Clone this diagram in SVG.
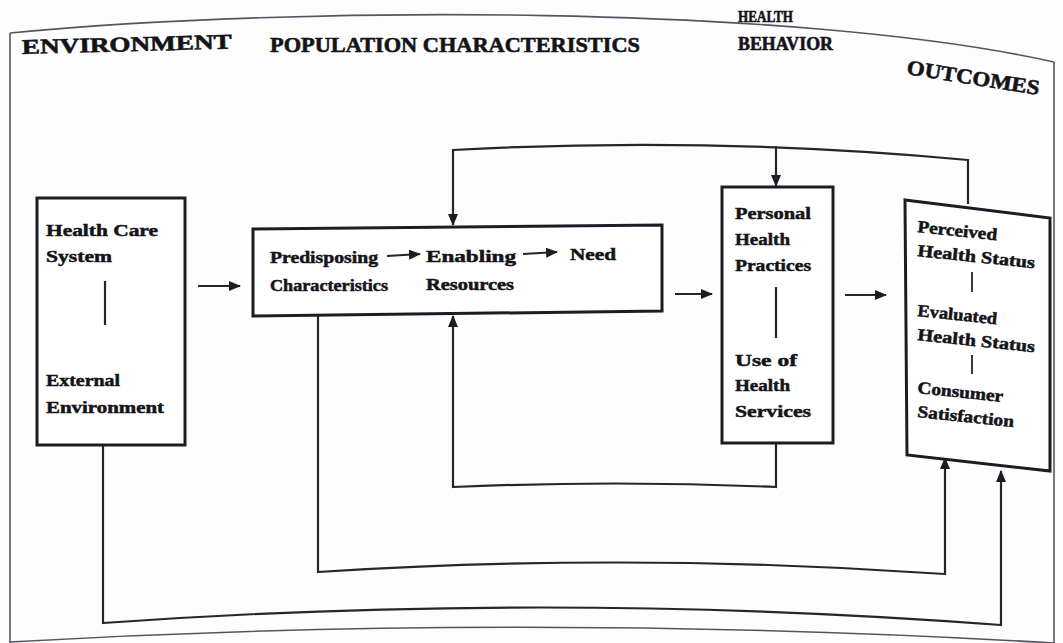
<svg xmlns="http://www.w3.org/2000/svg" width="1063" height="643" viewBox="0 0 1063 643">
<defs>
<style>
.frame{fill:none;stroke:#55555f;stroke-width:1.6}
.box{fill:#fff;stroke:#1c1c22;stroke-width:3}
.ln{fill:none;stroke:#25252b;stroke-width:2.2}
.hd{font-family:"Liberation Serif","Times New Roman",serif;font-weight:bold;font-size:21px;fill:#141418;stroke:#141418;stroke-width:0.6}
.tx{font-family:"Liberation Serif","Times New Roman",serif;font-weight:bold;font-size:17px;fill:#141418;stroke:#141418;stroke-width:0.5}
</style>
<marker id="ah" viewBox="0 0 12 10" refX="11" refY="5" markerWidth="12" markerHeight="10" markerUnits="userSpaceOnUse" orient="auto">
<path d="M0,0 L12,5 L0,10 Z" fill="#1c1c22"/>
</marker>
<marker id="ahs" viewBox="0 0 12 10" refX="11" refY="5" markerWidth="12" markerHeight="10" markerUnits="userSpaceOnUse" orient="auto">
<path d="M0,0 L12,5 L0,10 Z" fill="#1c1c22"/>
</marker>
</defs>
<rect width="1063" height="643" fill="#fdfdfd"/>

<g id="frame">
<path class="frame" d="M10 33 C300 5 800 5 1054 62"/>
<path class="frame" d="M10 33 L10 643"/>
<path class="frame" d="M1054 62 L1054 643"/>
<path class="frame" d="M10 642 Q530 612 1054 643"/>
</g>

<g id="headers">
<text class="hd" x="22" y="54" textLength="210" lengthAdjust="spacingAndGlyphs" transform="rotate(-1.5 22 54)">ENVIRONMENT</text>
<text class="hd" x="270" y="52" textLength="370" lengthAdjust="spacingAndGlyphs">POPULATION CHARACTERISTICS</text>
<text class="hd" x="738" y="22" textLength="55" lengthAdjust="spacingAndGlyphs" style="font-size:17px">HEALTH</text>
<text class="hd" x="738" y="50" textLength="95" lengthAdjust="spacingAndGlyphs" style="font-size:18px">BEHAVIOR</text>
<text class="hd" x="906" y="74" textLength="134" lengthAdjust="spacingAndGlyphs" transform="rotate(9 906 74)">OUTCOMES</text>
</g>

<g id="connectors">
<path class="ln" d="M198 286 L240 286" marker-end="url(#ah)"/>
<path class="ln" d="M675 294 L712 294" marker-end="url(#ah)"/>
<path class="ln" d="M845 295 L886 295" marker-end="url(#ah)"/>
<path class="ln" d="M968 204 L968 160 Q710 136 453 150 L453 225" marker-end="url(#ah)"/>
<path class="ln" d="M776 146 L776 186" marker-end="url(#ah)"/>
<path class="ln" d="M776 443 L776 487 Q615 480 453 487 L453 316" marker-end="url(#ah)"/>
<path class="ln" d="M318 315 L318 572 Q630 552 945 574 L945 458" marker-end="url(#ah)"/>
<path class="ln" d="M103 445 L103 623 Q552 591 1001 625 L1001 471" marker-end="url(#ah)"/>
</g>

<g id="environment">
<rect class="box" x="37" y="198" width="148" height="247"/>
<text class="tx" x="46" y="236" textLength="112" lengthAdjust="spacingAndGlyphs">Health Care</text>
<text class="tx" x="46" y="262" textLength="66" lengthAdjust="spacingAndGlyphs">System</text>
<path class="ln" d="M105 281 L105 325"/>
<text class="tx" x="46" y="386" textLength="74" lengthAdjust="spacingAndGlyphs">External</text>
<text class="tx" x="46" y="413" textLength="118" lengthAdjust="spacingAndGlyphs">Environment</text>
</g>

<g id="population">
<path class="box" d="M253 229 L662 225 L662 311 L253 316 Z"/>
<text class="tx" x="270" y="263" textLength="108" lengthAdjust="spacingAndGlyphs">Predisposing</text>
<text class="tx" x="270" y="291" textLength="118" lengthAdjust="spacingAndGlyphs">Characteristics</text>
<path class="ln" d="M387 256 L420 254" marker-end="url(#ahs)"/>
<text class="tx" x="426" y="262" textLength="90" lengthAdjust="spacingAndGlyphs">Enabling</text>
<text class="tx" x="426" y="290" textLength="88" lengthAdjust="spacingAndGlyphs">Resources</text>
<path class="ln" d="M523 254 L557 252" marker-end="url(#ahs)"/>
<text class="tx" x="570" y="260" textLength="46" lengthAdjust="spacingAndGlyphs">Need</text>
</g>

<g id="behavior">
<rect class="box" x="722" y="187" width="111" height="256"/>
<text class="tx" x="735" y="219" textLength="76" lengthAdjust="spacingAndGlyphs">Personal</text>
<text class="tx" x="735" y="245" textLength="55" lengthAdjust="spacingAndGlyphs">Health</text>
<text class="tx" x="735" y="271" textLength="76" lengthAdjust="spacingAndGlyphs">Practices</text>
<path class="ln" d="M776 287 L776 338"/>
<text class="tx" x="735" y="366" textLength="62" lengthAdjust="spacingAndGlyphs">Use of</text>
<text class="tx" x="735" y="391" textLength="55" lengthAdjust="spacingAndGlyphs">Health</text>
<text class="tx" x="735" y="417" textLength="76" lengthAdjust="spacingAndGlyphs">Services</text>
</g>

<g id="outcomes">
<path class="box" d="M905 200 L1050 218 L1050 471 L907 455 Z"/>
<text class="tx" x="917" y="232" textLength="80" lengthAdjust="spacingAndGlyphs" transform="rotate(6 917 232)">Perceived</text>
<text class="tx" x="917" y="256" textLength="118" lengthAdjust="spacingAndGlyphs" transform="rotate(6 917 256)">Health Status</text>
<path class="ln" d="M972 272 L972 292" style="stroke-width:1.8"/>
<text class="tx" x="917" y="316" textLength="80" lengthAdjust="spacingAndGlyphs" transform="rotate(6 917 316)">Evaluated</text>
<text class="tx" x="917" y="340" textLength="118" lengthAdjust="spacingAndGlyphs" transform="rotate(6 917 340)">Health Status</text>
<path class="ln" d="M972 355 L972 374" style="stroke-width:1.8"/>
<text class="tx" x="917" y="393" textLength="86" lengthAdjust="spacingAndGlyphs" transform="rotate(6 917 393)">Consumer</text>
<text class="tx" x="917" y="417" textLength="97" lengthAdjust="spacingAndGlyphs" transform="rotate(6 917 417)">Satisfaction</text>
</g>
</svg>
